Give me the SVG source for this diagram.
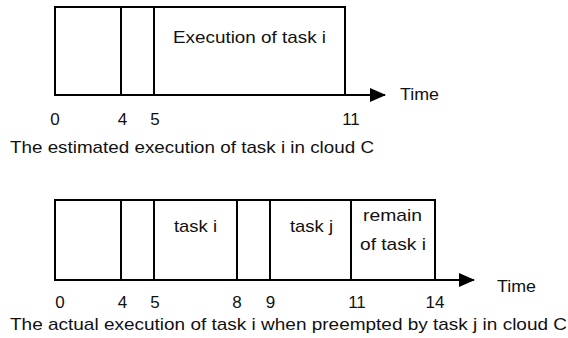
<svg xmlns="http://www.w3.org/2000/svg" width="568" height="338" viewBox="0 0 568 338">
<defs>
<style>
.box{fill:none;stroke:#000;stroke-width:2}
.ln{stroke:#000;stroke-width:2;fill:none}
text{font-family:"Liberation Sans",Arial,sans-serif;font-size:17px;fill:#111}
.n{text-anchor:middle}
</style>
<marker id="ah" markerWidth="16" markerHeight="14" refX="15" refY="7" orient="auto" markerUnits="userSpaceOnUse">
<path d="M0,0 L16,7 L0,14 Z" fill="#000"/>
</marker>
</defs>
<rect width="568" height="338" fill="#fff"/>
<g id="estimated">
<g id="est-box">
<rect class="box" x="55" y="7" width="290" height="88"/>
<line class="ln" x1="121" y1="7" x2="121" y2="95"/>
<line class="ln" x1="154" y1="7" x2="154" y2="95"/>
<text x="173" y="43" textLength="153" lengthAdjust="spacingAndGlyphs">Execution of task i</text>
</g>
<g id="est-ticks">
<text class="n" x="55" y="125">0</text>
<text class="n" x="122.5" y="125">4</text>
<text class="n" x="155" y="125">5</text>
<text class="n" x="351" y="125">11</text>
<text x="400" y="100" textLength="39" lengthAdjust="spacingAndGlyphs">Time</text>
</g>
<text id="est-caption" x="10" y="153" textLength="364" lengthAdjust="spacingAndGlyphs">The estimated execution of task i in cloud C</text>
</g>
<g id="actual">
<g id="act-box">
<rect class="box" x="55" y="200" width="380" height="80"/>
<line class="ln" x1="121" y1="200" x2="121" y2="280"/>
<line class="ln" x1="154" y1="200" x2="154" y2="280"/>
<line class="ln" x1="237" y1="200" x2="237" y2="280"/>
<line class="ln" x1="270" y1="200" x2="270" y2="280"/>
<line class="ln" x1="351" y1="200" x2="351" y2="280"/>
<text x="174" y="232" textLength="43" lengthAdjust="spacingAndGlyphs">task i</text>
<text x="290" y="232" textLength="43" lengthAdjust="spacingAndGlyphs">task j</text>
<text x="363" y="221" textLength="59" lengthAdjust="spacingAndGlyphs">remain</text>
<text x="360" y="250" textLength="66" lengthAdjust="spacingAndGlyphs">of task i</text>
</g>
<g id="act-ticks">
<text class="n" x="60" y="308">0</text>
<text class="n" x="122.5" y="308">4</text>
<text class="n" x="155" y="308">5</text>
<text class="n" x="237" y="308">8</text>
<text class="n" x="270.5" y="308">9</text>
<text class="n" x="357" y="308">11</text>
<text class="n" x="435" y="308">14</text>
<text x="497" y="292" textLength="39" lengthAdjust="spacingAndGlyphs">Time</text>
</g>
<text id="act-caption" x="10" y="330" textLength="557" lengthAdjust="spacingAndGlyphs">The actual execution of task i when preempted by task j in cloud C</text>
</g>
<g id="connectors">
<line class="ln" x1="345" y1="95" x2="385" y2="95" marker-end="url(#ah)"/>
<line class="ln" x1="435" y1="280" x2="474" y2="280" marker-end="url(#ah)"/>
</g>
</svg>
